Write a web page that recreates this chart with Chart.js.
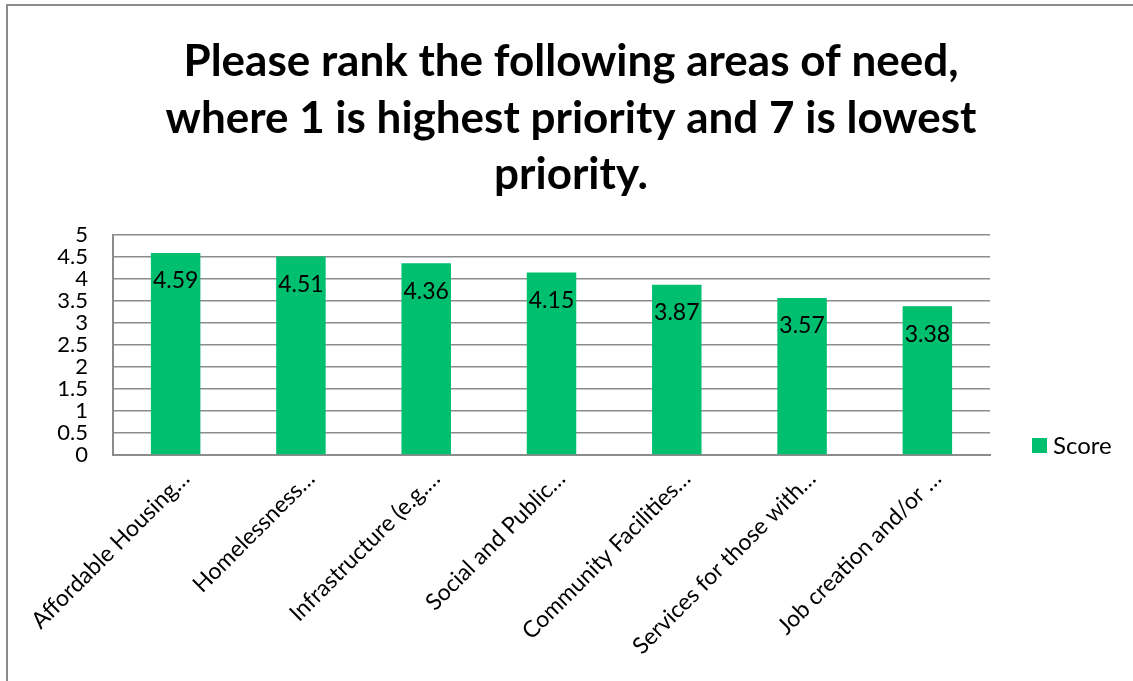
<!DOCTYPE html>
<html>
<head>
<meta charset="utf-8">
<script src="https://cdn.jsdelivr.net/npm/chart.js@4.4.1/dist/chart.umd.min.js"></script>
<style>
  html, body { margin: 0; padding: 0; background: #fff; }
  #wrap { position: relative; width: 1133px; height: 681px; overflow: hidden; }
  #frame { position: absolute; left: 6px; top: 4px; width: 1140px; height: 700px; border: 2px solid #8c8c8c; pointer-events: none; }
</style>
</head>
<body>
<div id="wrap">
  <canvas id="chart" width="1133" height="681"></canvas>
  <div id="frame"></div>
</div>
<script>
// data
const categories = [
  'Affordable Housing…',
  'Homelessness…',
  'Infrastructure (e.g.…',
  'Social and Public…',
  'Community Facilities…',
  'Services for those with…',
  'Job creation and/or …'
];
const scores = [4.59, 4.51, 4.36, 4.15, 3.87, 3.57, 3.38];
const seriesName = 'Score';
const titleLines = [
  'Please rank the following areas of need,',
  'where 1 is highest priority and 7 is lowest',
  'priority.'
];

const FONT = 'Lato, "Open Sans", sans-serif';
const GREEN = '#00bf6f';
const GRID = '#8c8c8c';

// title centred on the whole picture, not only on the plot
const pageTitle = {
  id: 'pageTitle',
  afterDraw(chart) {
    const ctx = chart.ctx;
    ctx.save();
    ctx.font = 'bold 44px ' + FONT;
    ctx.fillStyle = '#000';
    ctx.textAlign = 'center';
    ctx.textBaseline = 'middle';
    titleLines.forEach((line, i) => {
      ctx.fillText(line, 571, 62 + i * 56.5);
    });
    ctx.restore();
  }
};

// values written inside the top of each bar
const barLabels = {
  id: 'barLabels',
  afterDatasetsDraw(chart) {
    const ctx = chart.ctx;
    const meta = chart.getDatasetMeta(0);
    ctx.save();
    ctx.font = '23px ' + FONT;
    ctx.fillStyle = '#000';
    ctx.textAlign = 'center';
    ctx.textBaseline = 'middle';
    meta.data.forEach((bar, i) => {
      ctx.fillText(scores[i].toFixed(2), bar.x, bar.y + 28);
    });
    ctx.restore();
  }
};

// legend on the right, like the Excel one
const sideLegend = {
  id: 'sideLegend',
  afterDraw(chart) {
    const ctx = chart.ctx;
    ctx.save();
    ctx.fillStyle = GREEN;
    ctx.fillRect(1032, 438, 15, 15);
    ctx.fillStyle = '#000';
    ctx.font = '24px ' + FONT;
    ctx.textBaseline = 'middle';
    ctx.fillText(seriesName, 1053, 446);
    ctx.restore();
  }
};

new Chart(document.getElementById('chart'), {
  type: 'bar',
  data: {
    labels: categories,
    datasets: [{
      label: seriesName,
      data: scores,
      backgroundColor: GREEN,
      categoryPercentage: 1,
      barPercentage: 0.395
    }]
  },
  options: {
    responsive: false,
    animation: false,
    layout: { padding: { left: 0, right: 143, top: 235, bottom: 0 } },
    plugins: {
      legend: { display: false },
      tooltip: { enabled: false },
      title: { display: false }
    },
    scales: {
      x: {
        grid: { display: false },
        border: { display: true, color: GRID, width: 2 },
        ticks: {
          color: '#000',
          font: { family: FONT, size: 23 },
          minRotation: 45,
          maxRotation: 45,
          autoSkip: false,
          padding: 2,
          labelOffset: 10
        },
        afterFit(scale) { scale.height = 226; }
      },
      y: {
        min: 0,
        max: 5,
        grid: { color: GRID, lineWidth: 1.5, drawTicks: false },
        border: { display: true, color: GRID, width: 2 },
        ticks: {
          stepSize: 0.5,
          autoSkip: false,
          color: '#000',
          font: { family: FONT, size: 22, lineHeight: 1 },
          padding: 25,
          callback: (v) => String(+v)
        },
        afterFit(scale) { scale.width = 113; }
      }
    }
  },
  plugins: [pageTitle, barLabels, sideLegend]
});
</script>
</body>
</html>
